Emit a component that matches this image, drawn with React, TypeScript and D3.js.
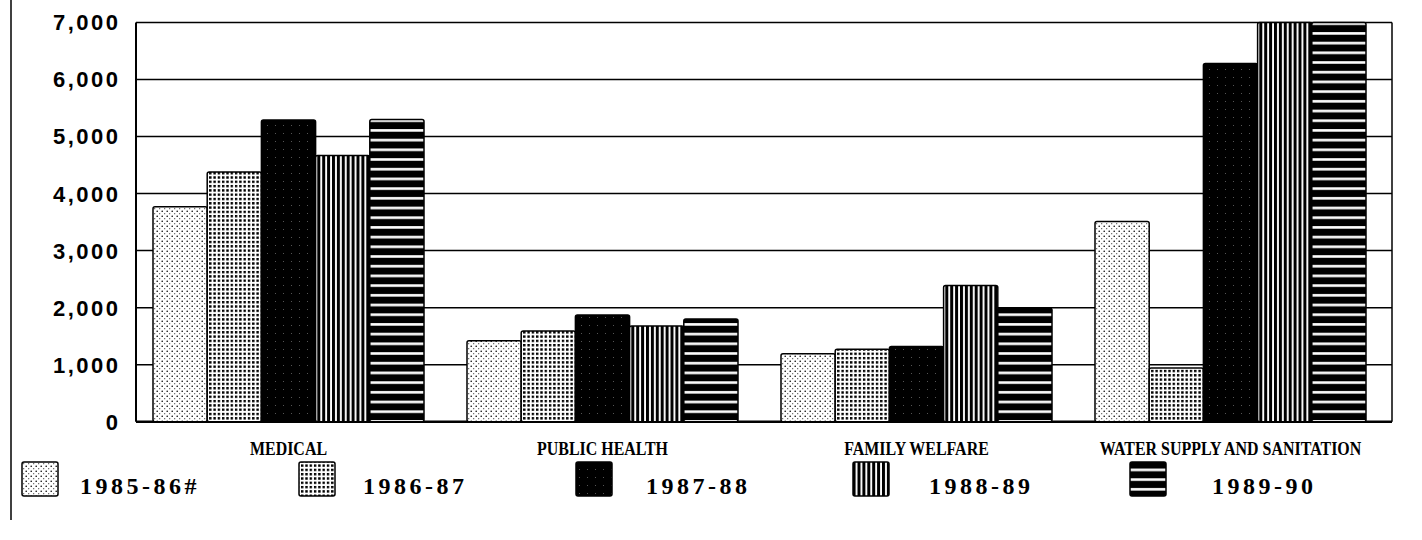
import React from "react";
import * as d3 from "d3";

const categories = ["MEDICAL", "PUBLIC HEALTH", "FAMILY WELFARE", "WATER SUPPLY AND SANITATION"];
const years = ["1985-86#", "1986-87", "1987-88", "1988-89", "1989-90"];

// expenditure per year, one value per category
const y1985 = [3770, 1420, 1190, 3510];
const y1986 = [4380, 1590, 1270, 940];
const y1987 = [5290, 1870, 1320, 6280];
const y1988 = [4670, 1680, 2390, 7000];
const y1989 = [5300, 1800, 1990, 7000];
const seriesValues = [y1985, y1986, y1987, y1988, y1989];

const yTicks = [0, 1000, 2000, 3000, 4000, 5000, 6000, 7000];

const W = 1422;
const H = 540;
const left = 136;
const right = 1392;
const top = 22.5;
const bottom = 421.7;

const patternIds = ["pDots", "pGrid", "pSolid", "pVert", "pHoriz"];

const App = () => {
  const y = d3.scaleLinear().domain([0, 7000]).range([bottom, top]);
  const x0 = d3.scaleBand().domain(categories).range([left, right]);
  const x1 = d3.scaleBand().domain(years).range([17, 288]);
  const legendBox = d3.scalePoint().domain(years).range([22, 1130]);
  const legendText = d3.scalePoint().domain(years).range([80, 1212]);
  const fmt = d3.format(",");

  return (
    <svg
      width={W}
      height={H}
      style={{ position: "absolute", left: 0, top: 0, background: "#fff" }}
    >
      <defs>
        <pattern id="pDots" width="5" height="5" patternUnits="userSpaceOnUse">
          <rect width="5" height="5" fill="#fff" />
          <circle cx="1.2" cy="1.2" r="0.8" fill="#000" />
          <circle cx="3.7" cy="3.7" r="0.6" fill="#444" />
        </pattern>
        <pattern id="pGrid" width="4.3" height="4.3" patternUnits="userSpaceOnUse">
          <rect width="4.3" height="4.3" fill="#fff" />
          <rect width="2.4" height="2.4" fill="#000" />
        </pattern>
        <pattern id="pSolid" width="8" height="8" patternUnits="userSpaceOnUse">
          <rect width="8" height="8" fill="#000" />
          <rect x="3" y="5" width="1" height="1" fill="#555" />
        </pattern>
        <pattern id="pVert" width="4.9" height="10" patternUnits="userSpaceOnUse">
          <rect width="4.9" height="10" fill="#fff" />
          <rect width="3" height="10" fill="#000" />
        </pattern>
        <pattern id="pHoriz" width="10" height="9.7" patternUnits="userSpaceOnUse">
          <rect width="10" height="9.7" fill="#000" />
          <rect y="3" width="10" height="2.6" fill="#fff" />
        </pattern>
      </defs>

      {/* page border on the left */}
      <line x1={11} x2={11} y1={0} y2={520} stroke="#000" strokeWidth={1.5} />

      {/* grid */}
      {yTicks.map((t) => (
        <line
          key={t}
          x1={left}
          x2={right}
          y1={y(t)}
          y2={y(t)}
          stroke="#000"
          strokeWidth={t === 0 ? 2.5 : 1.5}
        />
      ))}
      <line x1={left} x2={left} y1={top} y2={bottom} stroke="#000" strokeWidth={2} />
      <line x1={right} x2={right} y1={top} y2={bottom} stroke="#000" strokeWidth={1.5} />

      {yTicks.map((t) => (
        <text
          key={"l" + t}
          x={120.5}
          y={y(t)}
          dy="0.36em"
          textAnchor="end"
          fontFamily="Liberation Sans, Arial, sans-serif"
          fontWeight="bold"
          fontSize={22}
          letterSpacing={2.5}
        >
          {fmt(t)}
        </text>
      ))}

      {/* bars */}
      {categories.map((c, ci) => (
        <g key={c} transform={`translate(${x0(c)},0)`}>
          {years.map((yr, si) => {
            const v = seriesValues[si][ci];
            return (
              <rect
                key={yr}
                x={x1(yr)}
                y={y(v)}
                width={x1.bandwidth()}
                height={y(0) - y(v)}
                fill={`url(#${patternIds[si]})`}
                stroke="#000"
                strokeWidth={1.5}
                rx={2}
              />
            );
          })}
          <text
            transform={`translate(${152.5},455) scale(0.84,1)`}
            textAnchor="middle"
            fontFamily="Liberation Serif, Times New Roman, serif"
            fontWeight="bold"
            fontSize={19}
          >
            {c}
          </text>
        </g>
      ))}

      {/* legend */}
      {years.map((yr, si) => (
        <g key={"lg" + yr}>
          <rect
            x={legendBox(yr)}
            y={462}
            width={36}
            height={34}
            rx={2}
            fill={`url(#${patternIds[si]})`}
            stroke="#000"
            strokeWidth={1.5}
          />
          <text
            x={legendText(yr)}
            y={494}
            fontFamily="Liberation Serif, Times New Roman, serif"
            fontWeight="bold"
            fontSize={24}
            letterSpacing={3.5}
          >
            {yr}
          </text>
        </g>
      ))}
    </svg>
  );
};

export default App;
